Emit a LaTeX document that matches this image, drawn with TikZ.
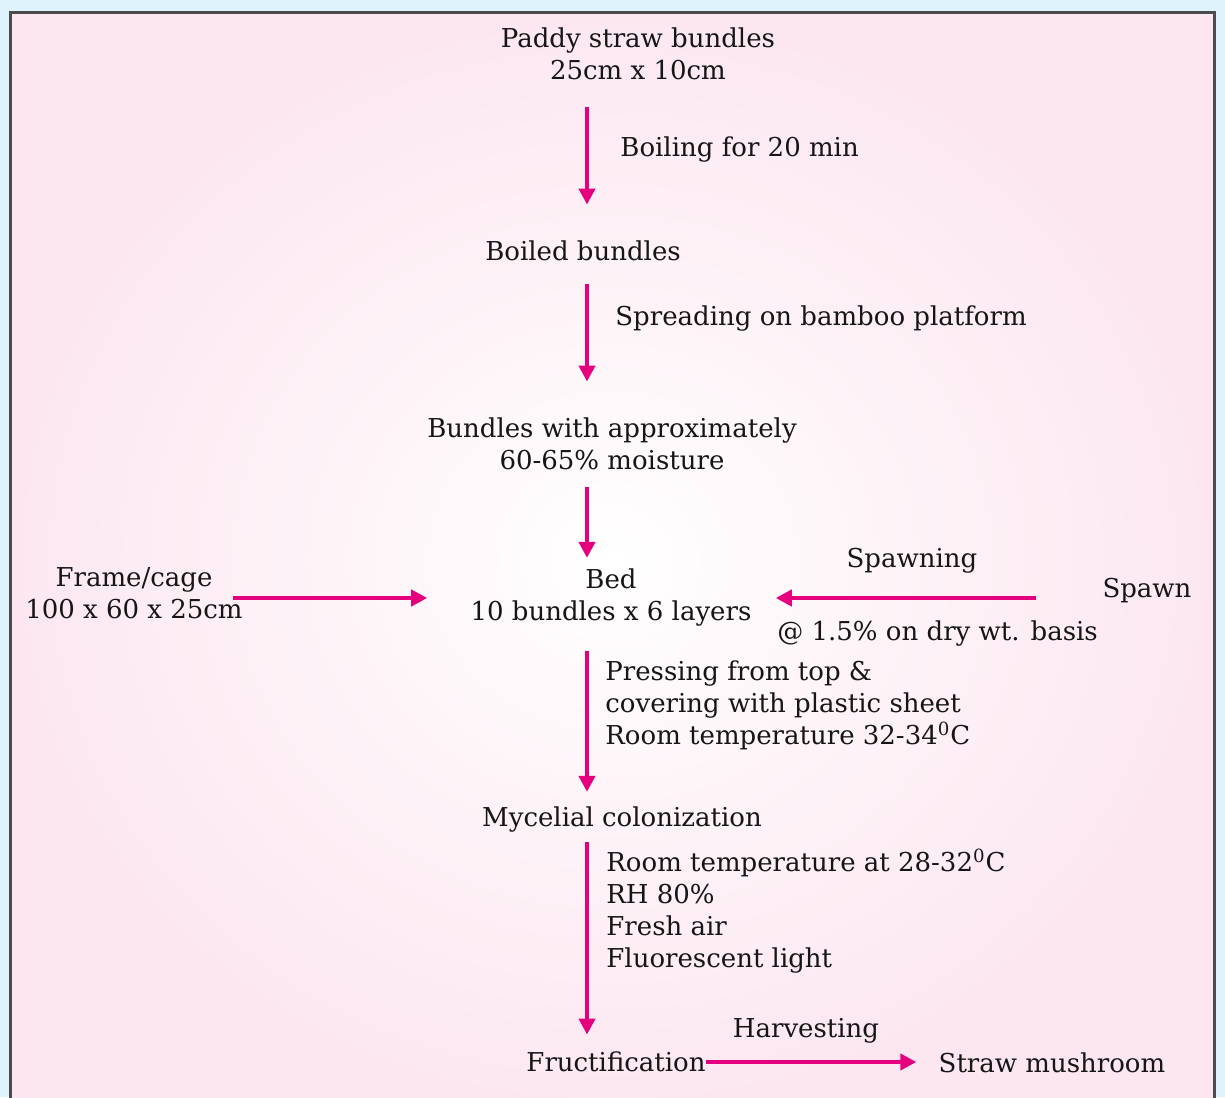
\documentclass[tikz,border=0pt]{standalone}
\usepackage{fontspec}
\setmainfont{DejaVu Serif}
\usetikzlibrary{calc, arrows.meta}
\definecolor{flowpink}{RGB}{229,0,125}
\definecolor{panelpink}{RGB}{252,231,240}
\definecolor{pagesky}{RGB}{223,243,252}
\definecolor{inkgray}{RGB}{22,22,22}

\begin{document}
\begin{tikzpicture}[x=0.5pt, y=-0.5pt,
  flow/.style={draw=flowpink, line width=2.2pt, -{Triangle[length=8pt, width=8pt]}},
  txt/.style={inner sep=0pt, text=inkgray, align=center, font=\fontsize{13}{16}\selectfont},
  note/.style={txt, anchor=west, align=left}]
  \useasboundingbox (0,0) rectangle (1225,1097);
  \fill[pagesky] (0,0) rectangle (1225,1097);
  \shade[inner color=white, outer color=panelpink] (10,13) rectangle (1214,1110);
  \draw[line width=1.5pt, black!70] (10,13) rectangle (1214,1110);
  \coordinate (spine) at (587,0);
  % 主流程
  \node[txt] (paddy) at (638,54) {Paddy straw bundles\\25cm x 10cm};
  \node[txt] (boiled) at (583,251) {Boiled bundles};
  \node[txt] (moist) at (612,444) {Bundles with approximately\\60-65\% moisture};
  \node[txt] (bed) at (611,598) {Bed\\10 bundles x 6 layers};
  \node[txt] (frame) at (134,593) {Frame/cage\\100 x 60 x 25cm};
  \node[txt] (spawn) at (1147,591) {Spawn};
  \node[txt] (myc) at (622,819) {Mycelial colonization};
  \node[txt] (fruct) at (616,1062) {Fructification};
  \node[txt] (straw) at (1052,1063) {Straw mushroom};
  \draw[flow, shorten <=13.5pt, shorten >=18pt] (paddy.south -| spine) -- (boiled.north -| spine);
  \draw[flow, shorten <=11.5pt, shorten >=18pt] (boiled.south -| spine) -- (moist.north -| spine);
  \draw[flow, shorten <=8.5pt, shorten >=5.5pt] (moist.south -| spine) -- (bed.north -| spine);
  \draw[flow, shorten <=12pt, shorten >=7pt] (bed.south -| spine) -- (myc.north -| spine);
  \draw[flow, shorten <=5pt, shorten >=8.5pt] (myc.south -| spine) -- (fruct.north -| spine);
  \draw[flow, shorten <=-5pt, shorten >=21.5pt] (frame.east |- bed) -- (bed.west);
  \draw[flow, shorten <=33pt, shorten >=12pt] (spawn.west |- bed) -- (bed.east);
  \draw[flow, shorten >=11pt] (fruct.east) -- (fruct -| straw.west);
  \node[note] (boil) at (620,150) {Boiling for 20 min};
  \node[note] (spread) at (615,319) {Spreading on bamboo platform};
  \node[note] (press) at (605,705) {Pressing from top \&\\covering with plastic sheet\\Room temperature 32-34\textsuperscript{0}C};
  \node[note] (cond) at (606,911) {Room temperature at 28-32\textsuperscript{0}C\\RH 80\%\\Fresh air\\Fluorescent light};
  \node[txt] (spawning) at (912,561) {Spawning};
  \node[note] (rate) at (777,634) {@ 1.5\% on dry wt. basis};
  \node[txt] (harvest) at (806,1031) {Harvesting};
\end{tikzpicture}
\end{document}
